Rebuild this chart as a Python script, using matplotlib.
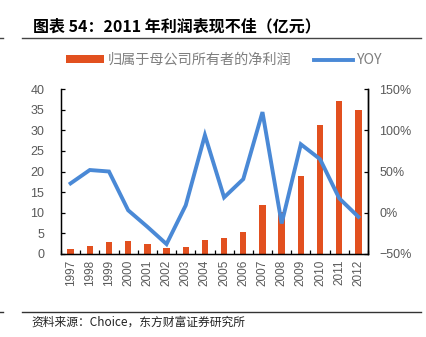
import matplotlib
matplotlib.use("Agg")
import matplotlib.pyplot as plt
from matplotlib.lines import Line2D
from matplotlib.patches import Patch
import numpy as np

plt.rcParams['font.family'] = ['Liberation Sans', 'Noto Sans CJK SC', 'DejaVu Sans']

years = ['1997', '1998', '1999', '2000', '2001', '2002', '2003', '2004',
         '2005', '2006', '2007', '2008', '2009', '2010', '2011', '2012']
net_profit = [1.2, 2.0, 2.9, 3.1, 2.5, 1.5, 1.7, 3.3,
              3.8, 5.3, 11.9, 10.3, 18.9, 31.3, 37.0, 34.8]
yoy = [35.6, 51.8, 50.0, 3.0, -17.0, -38.0, 9.0, 94.0,
       18.6, 40.8, 122.0, -13.0, 83.0, 65.0, 17.5, -5.0]

title = '图表 54：2011 年利润表现不佳（亿元）'
bar_label = '归属于母公司所有者的净利润'
line_label = 'YOY'
source = '资料来源：Choice，东方财富证券研究所'

bar_color = '#E2501F'
line_color = '#4A89D6'
tick_gray = '#595959'
cjk = ['Noto Sans CJK SC', 'DejaVu Sans']

W, H = 427, 337
fig = plt.figure(figsize=(W / 100, H / 100), dpi=100)

ax = fig.add_axes([61 / W, 1 - 254 / H, (368 - 61) / W, (254 - 89) / H])
x = np.arange(len(years))
ax.bar(x, net_profit, width=0.33, color=bar_color, zorder=2)
ax.set_xlim(-0.5, len(years) - 0.5)
ax.set_ylim(0, 40)
ax.set_yticks(np.arange(0, 41, 5))
ax.set_xticks(x)
ax.set_xticklabels(years, rotation=90, fontsize=8.5, color=tick_gray)
ax.tick_params(axis='x', length=0, pad=4)
ax.set_xticks(np.arange(-0.5, len(years), 1.0), minor=True)
ax.tick_params(axis='x', which='minor', direction='in', length=3, width=0.9, color='black')
ax.tick_params(axis='y', direction='in', length=3, width=0.9, labelsize=9,
               labelcolor=tick_gray, pad=12)
ax.spines['top'].set_visible(False)
for s in ('left', 'right', 'bottom'):
    ax.spines[s].set_linewidth(1.0)
    ax.spines[s].set_color('black')

ax2 = ax.twinx()
ax2.plot(x, yoy, color=line_color, lw=2.8, solid_joinstyle='miter', zorder=3)
ax2.set_ylim(-50, 150)
ax2.set_yticks(np.arange(-50, 151, 50))
ax2.set_yticklabels([f'{v}%'.replace('-', '−') for v in range(-50, 151, 50)])
ax2.tick_params(axis='y', direction='in', length=3, width=0.9, labelsize=9,
                labelcolor=tick_gray, pad=8)
ax2.spines['top'].set_visible(False)
ax2.spines['right'].set_linewidth(1.0)

# legend
handles = [Patch(facecolor=bar_color, edgecolor='none'),
           Line2D([0], [0], color=line_color, lw=2.8)]
leg = fig.legend(handles, [bar_label, line_label], loc='center',
                 bbox_to_anchor=(224 / W, 1 - 60 / H), ncol=2, frameon=False,
                 handlelength=2.7, handleheight=0.4,
                 columnspacing=1.6, handletextpad=0.3,
                 prop={'family': cjk, 'size': 10.2})
for t in leg.get_texts():
    t.set_color('#7F7F7F')

# title and rules
fig.text(33 / W, 1 - 26 / H, title, fontsize=11.5, fontweight='bold',
         family=cjk, va='center', ha='left', color='black')
fig.add_artist(Line2D([22 / W, 421 / W], [1 - 38 / H] * 2, color='#444444', lw=1.0))
fig.add_artist(Line2D([0, 3 / W], [1 - 38 / H] * 2, color='#444444', lw=1.0))
fig.add_artist(Line2D([22 / W, 421 / W], [1 - 312 / H] * 2, color='#333333', lw=1.0))
fig.add_artist(Line2D([0, 3 / W], [1 - 312 / H] * 2, color='#333333', lw=1.0))
fig.text(31 / W, 1 - 322 / H, source, fontsize=8.5,
         family=cjk, va='center', ha='left', color='#222222')

fig.savefig('out.png', dpi=100)
